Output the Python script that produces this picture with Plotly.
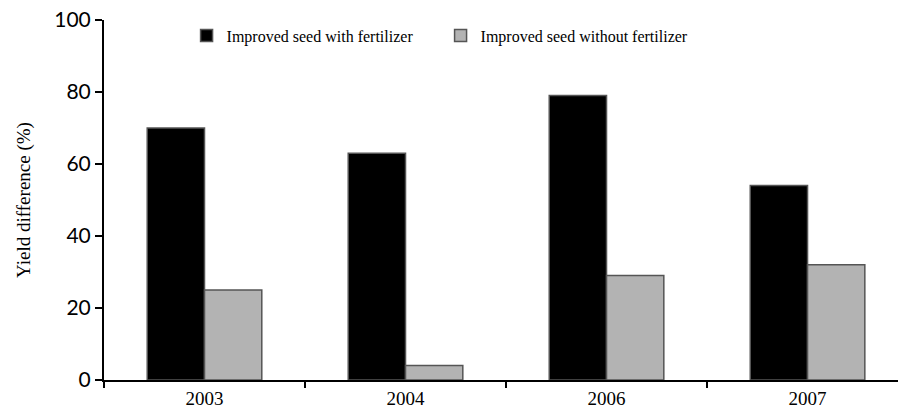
import plotly.graph_objects as go

years = ["2003", "2004", "2006", "2007"]
with_fert = [70, 63, 79, 54]
without_fert = [25, 4, 29, 32]
y_ticks = [0, 20, 40, 60, 80, 100]

fig = go.Figure()
fig.add_trace(go.Bar(
    x=years, y=with_fert, name="Improved seed with fertilizer",
    marker=dict(color="#000000", line=dict(color="#555555", width=1.5)),
))
fig.add_trace(go.Bar(
    x=years, y=without_fert, name="Improved seed without fertilizer",
    marker=dict(color="#b3b3b3", line=dict(color="#555555", width=1.5)),
))

fig.update_layout(
    width=898, height=416,
    margin=dict(l=104, r=0, t=20, b=36),
    paper_bgcolor="white", plot_bgcolor="white",
    barmode="group", bargap=0.43, bargroupgap=0,
    showlegend=True,
    legend=dict(
        orientation="h", x=0.104, xanchor="left", y=1.004, yanchor="top",
        font=dict(family="Liberation Serif", size=16, color="black"),
        entrywidth=209, entrywidthmode="pixels",
        bgcolor="rgba(0,0,0,0)", itemwidth=30,
    ),
    xaxis=dict(
        type="category", range=[-0.5, 3.45], automargin=False,
        showline=True, linecolor="black", linewidth=2,
        ticks="outside", tickson="boundaries", ticklen=6, tickwidth=2, tickcolor="black",
        tickfont=dict(family="Liberation Serif", size=19, color="black"),
        showgrid=False,
    ),
    yaxis=dict(
        range=[0, 100], tickvals=y_ticks, automargin=False,
        ticklabeloverflow="allow",
        showline=True, linecolor="black", linewidth=2,
        ticks="outside", ticklen=7, tickwidth=2, tickcolor="black",
        tickfont=dict(family="Lato", size=21, color="black"),
        showgrid=False, zeroline=False,
        title=dict(text="Yield difference (%)", standoff=19,
                   font=dict(family="Liberation Serif", size=19, color="black")),
    ),
)

# drop the default 8px body margin so the figure fills the window
fig.write_html(
    "out.html",
    config={"displayModeBar": False},
    post_script="document.body.style.margin='0';",
)
